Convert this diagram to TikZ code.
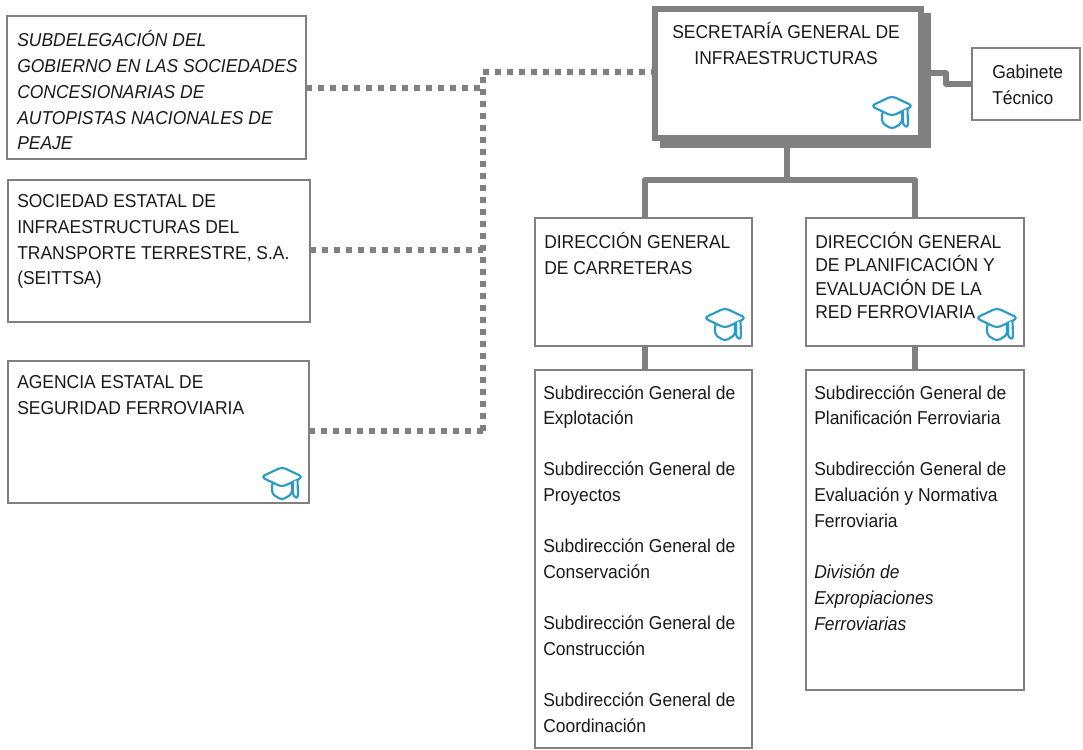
\documentclass[tikz,border=0pt]{standalone}
\usepackage{fontspec}
\setmainfont[FakeStretch=0.935]{Liberation Sans}
\usetikzlibrary{positioning,calc}
\definecolor{gr}{HTML}{808080}
\definecolor{capblue}{HTML}{2A9BC9}
\definecolor{ink}{HTML}{1A1A1A}
\tikzset{
  x=0.75pt,y=-0.75pt,
  boxn/.style={draw=gr,line width=1.9pt,fill=white,inner sep=0pt,outer sep=0pt,anchor=north west},
  thinbox/.style={draw=gr,line width=1.5pt,fill=white,inner sep=0pt,outer sep=0pt,anchor=north west},
  txt/.style={anchor=north west,inner sep=0pt,align=left,text=ink,font=\fontsize{14pt}{19.4pt}\selectfont},
  solidc/.style={draw=gr,line width=3.8pt,line join=round},
  dotc/.style={draw=gr,line width=4.6pt,dash pattern=on 4.6pt off 4.4pt},
  capln/.style={draw=capblue,line width=1.6pt,line join=round,line cap=round,fill=white},
  gradcap/.pic={
    \draw[capln,rounded corners=2.5] (-10,5) -- (-10,17) -- (0,23) -- (10,17) -- (10,5) -- cycle;
    \draw[capln,rounded corners=3] (0,-10) -- (21,0) -- (0,10) -- (-21,0) -- cycle;
    \draw[capln,rounded corners=1] (11,5) -- (11,18) -- (15,21.5) -- (16,18) -- (15.5,3);
  }
}
\begin{document}
\begin{tikzpicture}
\useasboundingbox (0,0) rectangle (1083,750);
\fill[white] (0,0) rectangle (1083,750);
% connector junctions
\coordinate (j1) at (483,88);
\coordinate (j0) at (483,72);
\coordinate (j2) at (483,250);
\coordinate (j3) at (483,431);
\coordinate (h1) at (645,180);
\coordinate (h2) at (915,180);
\coordinate (h0) at (787,180);
% boxes
\node[boxn,minimum width=224.25pt,minimum height=107.25pt] (sub) at (7,16) {};
\node[boxn,minimum width=226.5pt,minimum height=106.5pt] (soc) at (8,180) {};
\node[boxn,minimum width=225.75pt,minimum height=106.5pt] (age) at (8,361) {};
\fill[gr] (660,13) rectangle (931,148);
\node[draw=gr,line width=4.5pt,fill=white,inner sep=0pt,outer sep=0pt,anchor=north west,minimum width=199.5pt,minimum height=96.75pt] (sec) at (655,8.5) {};
\node[thinbox,minimum width=81pt,minimum height=54pt] (gab) at (972,48) {};
\node[boxn,minimum width=162.75pt,minimum height=96pt] (dgc) at (535,218) {};
\node[boxn,minimum width=163.5pt,minimum height=96pt] (dgp) at (806,218) {};
\node[boxn,minimum width=162.75pt,minimum height=283.5pt] (sc) at (535,370) {};
\node[boxn,minimum width=163.5pt,minimum height=240pt] (sp) at (806,370) {};
% connectors
\draw[dotc] (sub.east |- j1) -- (j1);
\draw[dotc] (soc.east |- j2) -- (j2);
\draw[dotc] (age.east |- j3) -- (j3);
\draw[dotc] (j3) -- (j0);
\draw[dotc] (j0) -- (sec.west |- j0);
\draw[solidc] (931,73) -| (946,84) -- (gab.west |- 0,84);
\draw[solidc] (787,148) -- (h0);
\draw[solidc] (dgc.north -| h1) -- (h1) -- (h2) -- (dgp.north -| h2);
\draw[solidc] (dgc.south -| 645,0) -- (sc.north -| 645,0);
\draw[solidc] (dgp.south -| 915,0) -- (sp.north -| 915,0);
% text
\node[txt] (t1) at (17,30) {\itshape SUBDELEGACIÓN DEL\\\itshape GOBIERNO EN LAS SOCIEDADES\\\itshape CONCESIONARIAS DE\\\itshape AUTOPISTAS NACIONALES DE\\\itshape PEAJE};
\node[txt] (t2) at (17,194) {SOCIEDAD ESTATAL DE\\INFRAESTRUCTURAS DEL\\TRANSPORTE TERRESTRE, S.A.\\(SEITTSA)};
\node[txt] (t3) at (17,375) {AGENCIA ESTATAL DE\\SEGURIDAD FERROVIARIA};
\node[txt,align=center] (t4) at (672,22) {SECRETARÍA GENERAL DE\\INFRAESTRUCTURAS};
\node[txt] (t5) at (992,65) {Gabinete\\Técnico};
\node[txt] (t6) at (544,232) {DIRECCIÓN GENERAL\\DE CARRETERAS};
\node[txt,font=\fontsize{14pt}{17.6pt}\selectfont] (t7) at (815,232) {DIRECCIÓN GENERAL\\DE PLANIFICACIÓN Y\\EVALUACIÓN DE LA\\RED FERROVIARIA};
\node[txt] (t8) at (543,385) {Subdirección General de\\Explotación\\[18.9pt]Subdirección General de\\Proyectos\\[18.9pt]Subdirección General de\\Conservación\\[18.9pt]Subdirección General de\\Construcción\\[18.9pt]Subdirección General de\\Coordinación};
\node[txt] (t9) at (814,385) {Subdirección General de\\Planificación Ferroviaria\\[18.9pt]Subdirección General de\\Evaluación y Normativa\\Ferroviaria\\[18.9pt]\itshape División de\\\itshape Expropiaciones\\\itshape Ferroviarias};
% caps
\pic at (892,106) {gradcap};
\pic at (725,318) {gradcap};
\pic at (997,318) {gradcap};
\pic at (282,477) {gradcap};
\end{tikzpicture}
\end{document}
